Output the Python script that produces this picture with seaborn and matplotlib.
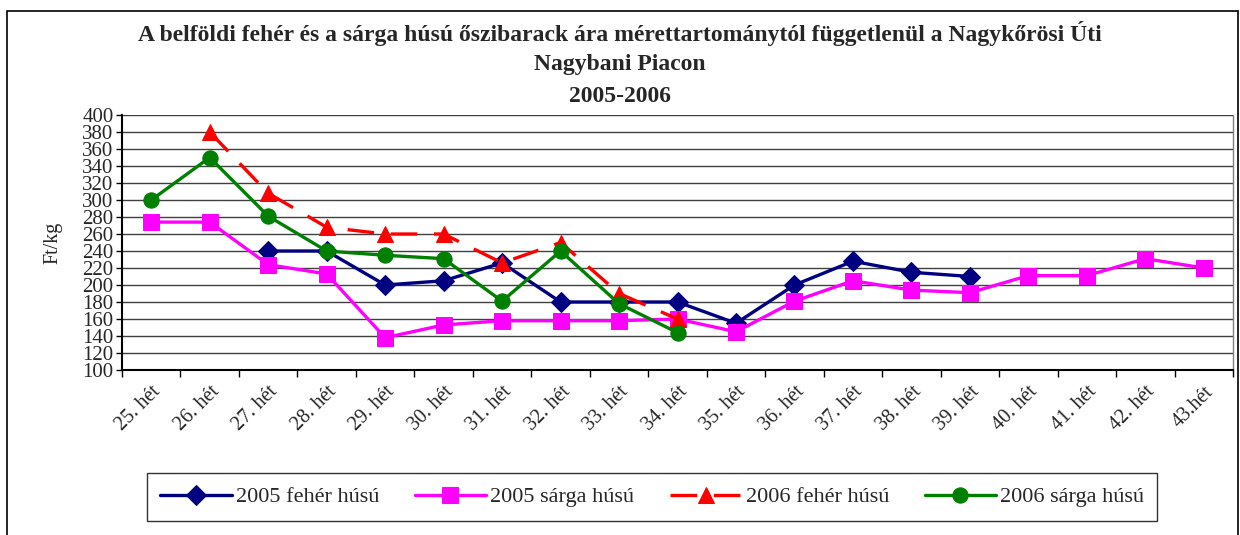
import numpy as np
import pandas as pd
import matplotlib
matplotlib.use("Agg")
import matplotlib.pyplot as plt
import seaborn as sns
from matplotlib.patches import Rectangle
from matplotlib.ticker import MultipleLocator, FixedLocator, NullFormatter

weeks = [f"{w}. hét" for w in range(25, 43)] + ["43.hét"]
nan = np.nan

feher_2005 = [nan, nan, 240, 240, 200, 205, 226, 180, 180, 180, 155, 200, 228, 215, 210, nan, nan, nan, nan]
sarga_2005 = [274, 274, 224, 213, 138, 153, 158, 158, 158, 160, 145, 181, 205, 194, 191, 211, 211, 231, 220]
feher_2006 = [nan, 380, 308, 268, 260, 260, 226, 250, 190, 160, nan, nan, nan, nan, nan, nan, nan, nan, nan]
sarga_2006 = [300, 350, 281, 240, 235, 231, 181, 240, 178, 144, nan, nan, nan, nan, nan, nan, nan, nan, nan]

series = ["2005 fehér húsú", "2005 sárga húsú", "2006 fehér húsú", "2006 sárga húsú"]
values = [feher_2005, sarga_2005, feher_2006, sarga_2006]
colors = ["#000080", "#ff00ff", "#ff0000", "#008000"]
markers = ["D", "s", "^", "o"]
msizes = [10, 11, 12, 11]

sns.set_style("white")
plt.rcParams["font.family"] = ["Liberation Serif", "DejaVu Serif"]

fig = plt.figure(figsize=(12.4, 5.35), dpi=100)
ax = fig.add_axes([0.0984, 0.3084, 0.896, 0.4766])

x = np.arange(len(weeks))
for name, vals, c, m, ms in zip(series, values, colors, markers, msizes):
    df = pd.DataFrame({"x": x, "y": vals}).dropna()
    sns.lineplot(data=df, x="x", y="y", ax=ax, color=c, marker=m, markersize=ms,
                 markeredgecolor=c, linewidth=2.4, label=name,
                 linestyle=(0, (8, 5)) if name == "2006 fehér húsú" else "-")

ax.set_xlim(-0.5, len(weeks) - 0.5)
ax.set_ylim(100, 400)
ax.yaxis.set_major_locator(MultipleLocator(20))
ax.grid(axis="y", color="#404040", linewidth=1)
ax.set_axisbelow(True)

ax.xaxis.set_major_locator(FixedLocator(np.arange(-0.5, len(weeks), 1)))
ax.xaxis.set_major_formatter(NullFormatter())
ax.set_xticks(x, minor=True)
ax.set_xticklabels(weeks, minor=True, rotation=45, ha="right", rotation_mode="anchor", fontsize=14.5)
ax.tick_params(axis="x", which="major", direction="out", length=5, width=1, color="black", bottom=True)
ax.tick_params(axis="x", which="minor", length=0, pad=9)
ax.tick_params(axis="y", direction="out", length=4, width=1, color="black", left=True, labelsize=15, pad=2)

for s in ["left", "bottom"]:
    ax.spines[s].set_color("black")
    ax.spines[s].set_linewidth(1.5)
ax.spines["top"].set_visible(False)
ax.spines["right"].set_color("#808080")
ax.spines["right"].set_linewidth(1)

ax.set_xlabel("")
ax.set_ylabel("Ft/kg", fontsize=14.5, labelpad=14)

title_lines = ["A belföldi fehér és a sárga húsú őszibarack ára mérettartománytól függetlenül a Nagykőrösi Úti",
               "Nagybani Piacon", "2005-2006"]
for ty, t in zip([0.938, 0.880, 0.819], title_lines):
    fig.text(0.5, ty, t, ha="center", va="center", fontsize=17, fontweight="bold")

handles, labels = ax.get_legend_handles_labels()
ax.get_legend().remove()
leg = fig.legend(handles, labels, loc="center", bbox_to_anchor=(0.526, 0.071), ncol=4,
                 frameon=True, fancybox=False, edgecolor="black", fontsize=16,
                 handlelength=3.2, columnspacing=1.6, handletextpad=0.2,
                 borderpad=0.6, shadow=False)
leg.get_frame().set_linewidth(1)

fig.patches.append(Rectangle((0.006, -0.02), 0.992, 1.0, transform=fig.transFigure,
                             fill=False, edgecolor="black", linewidth=1.2))

fig.savefig("out.png", dpi=100)
